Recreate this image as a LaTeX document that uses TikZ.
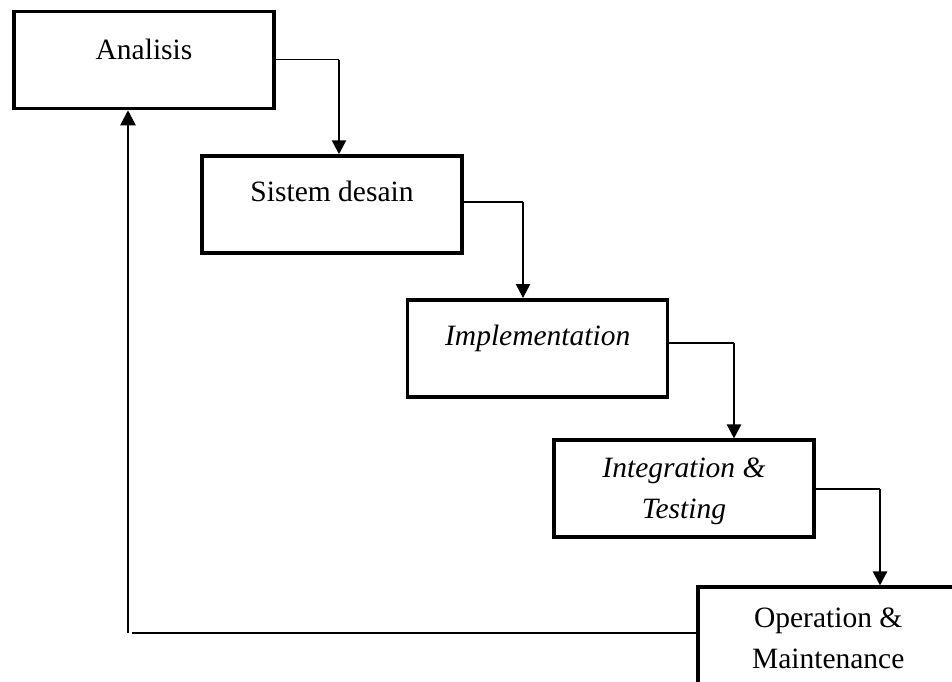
\documentclass[tikz,border=0pt]{standalone}
\usepackage{fontspec}
\setmainfont{Liberation Serif}
\usetikzlibrary{arrows.meta}

\tikzset{
  stage/.style={draw=black, line width=3.5pt, fill=white, rectangle,
    minimum width=260pt, minimum height=97pt, inner sep=0pt},
  caption/.style={anchor=base, inner sep=0pt, align=center,
    font=\fontsize{29.5}{40.5}\selectfont},
  feed/.style={draw=black, line width=1.4pt},
  drop/.style={draw=black, line width=2.3pt,
    -{Triangle[width=14pt,length=14pt]}},
  back/.style={draw=black, line width=2.3pt,
    -{Triangle[width=15pt,length=15pt]}},
}

\begin{document}
\begin{tikzpicture}[x=1pt, y=-1pt]
  \useasboundingbox (0,0) rectangle (952,681);
  \clip (0,0) rectangle (952,681);

  % the five stages
  \node[stage] (b1) at (144,60) {};
  \node[stage] (b2) at (332,204.5) {};
  \node[stage] (b3) at (537.7,348.3) {};
  \node[stage] (b4) at (684,488.7) {};
  \node[stage] (b5) at (828.2,635.7) {};

  % stage captions (anchored on the baseline of the last line)
  \node[caption] (t1) at (144,59) {Analisis};
  \node[caption] (t2) at (332,201.7) {Sistem desain};
  \node[caption] (t3) at (537.7,345) {\itshape Implementation};
  \node[caption] (t4) at (684,518) {\itshape Integration \&\\\itshape Testing};
  \node[caption] (t5) at (828.2,668) {Operation \&\\Maintenance};

  % bends of the cascade
  \coordinate (k1) at (339,59.5);
  \coordinate (k2) at (523,202);
  \coordinate (k3) at (734,343);
  \coordinate (k4) at (880,489);
  \coordinate (r)  at (128,633);

  % stage to stage
  \draw[feed] (b1.east |- k1) -- (k1);
  \draw[drop] (k1) -- (k1 |- b2.north);
  \draw[feed] (b2.east |- k2) -- (k2);
  \draw[drop] (k2) -- (k2 |- b3.north);
  \draw[feed] (b3.east |- k3) -- (k3);
  \draw[drop] (k3) -- (k3 |- b4.north);
  \draw[feed] (b4.east |- k4) -- (k4);
  \draw[drop] (k4) -- (k4 |- b5.north);

  % feedback loop to the first stage
  \draw[draw=black, line width=1.6pt] (b5.west |- r) -- ([xshift=4pt]r);
  \draw[back] (r) -- (r |- b1.south);
\end{tikzpicture}
\end{document}
